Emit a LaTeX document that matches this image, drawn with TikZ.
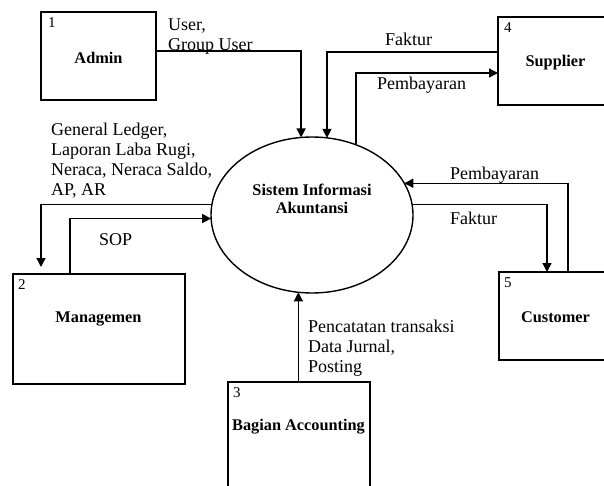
\documentclass[tikz,border=0pt]{standalone}
\usepackage{fontspec}
\setmainfont{Liberation Serif}
\usetikzlibrary{arrows.meta,shapes.geometric}
\begin{document}
\begin{tikzpicture}[x=1pt,y=-1pt,
  box/.style={draw,line width=1.6pt,rectangle,inner sep=0pt,outer sep=0pt,anchor=north west},
  num/.style={font=\fontsize{15}{17}\selectfont,inner sep=0pt,anchor=north west},
  title/.style={font=\fontsize{16.3}{18}\selectfont\bfseries,inner sep=0pt,align=center},
  lbl/.style={font=\fontsize{18}{20}\selectfont,inner sep=0pt,anchor=north west,align=left},
  flow/.style={draw,line width=1.3pt,-{Triangle[length=9pt,width=9pt]}},
  line/.style={draw,line width=1.3pt}]
\useasboundingbox (0,0) rectangle (604,486);
\clip (0,0) rectangle (604,486);

% external entities
\node[box,minimum width=115pt,minimum height=88pt] (admin) at (41,12) {};
\node[num] (n1) at ([shift={(7,5)}]admin.north west) {1};
\node[title] (adminT) at (98.5,58) {Admin};

\node[box,minimum width=172pt,minimum height=110pt] (manag) at (13,274) {};
\node[num] (n2) at ([shift={(5,5)}]manag.north west) {2};
\node[title] (managT) at (98.5,319) {Managemen};

\node[box,minimum width=142pt,minimum height=120pt] (acc) at (228,382) {};
\node[num] (n3) at ([shift={(5,5)}]acc.north west) {3};
\node[title] (accT) at (298.5,427) {Bagian Accounting};

\node[box,minimum width=120pt,minimum height=88pt] (supp) at (498,17) {};
\node[num] (n4) at ([shift={(6,5)}]supp.north west) {4};
\node[title] (suppT) at (555.5,63) {Supplier};

\node[box,minimum width=120pt,minimum height=88pt] (cust) at (499,272) {};
\node[num] (n5) at ([shift={(5,5)}]cust.north west) {5};
\node[title] (custT) at (555.5,317) {Customer};

% process
\node[draw,ellipse,line width=1.4pt,minimum width=202pt,minimum height=156pt,inner sep=0pt,outer sep=0pt] (sia) at (312,215) {};
\node[title] (siaT) at (312,199) {Sistem Informasi\\Akuntansi};

% flows
\draw[flow] (admin.east |- 0,51) -| (sia.98.8);
\draw[flow] (supp.west |- 0,52) -| (sia.79);
\draw[flow] (sia.58.7) |- (supp.west |- 0,73);
\draw[flow,shorten >=7pt] (sia.174.3) -| (manag.north -| 41,0);
\draw[flow] (manag.north -| 70,0) |- (sia.182.3);
\draw[flow] (acc.north -| sia.260.5) -- (sia.260.5);
\draw[flow] (cust.north -| 568,0) |- (sia.19.2);
\draw[flow] (sia.6.3) -| (cust.north -| 547,0);

% labels
\node[lbl] (l1) at (168,19) {User,\\Group User};
\node[lbl] (l2) at (51,123) {General Ledger,\\Laporan Laba Rugi,\\Neraca, Neraca Saldo,\\AP, AR};
\node[lbl] (l3) at (99,233) {SOP};
\node[lbl] (l4) at (308,320) {Pencatatan transaksi\\Data Jurnal,\\Posting};
\node[lbl] (l5) at (385,33) {Faktur};
\node[lbl] (l6) at (377,77) {Pembayaran};
\node[lbl] (l7) at (450,167) {Pembayaran};
\node[lbl] (l8) at (450,212) {Faktur};
\end{tikzpicture}
\end{document}
